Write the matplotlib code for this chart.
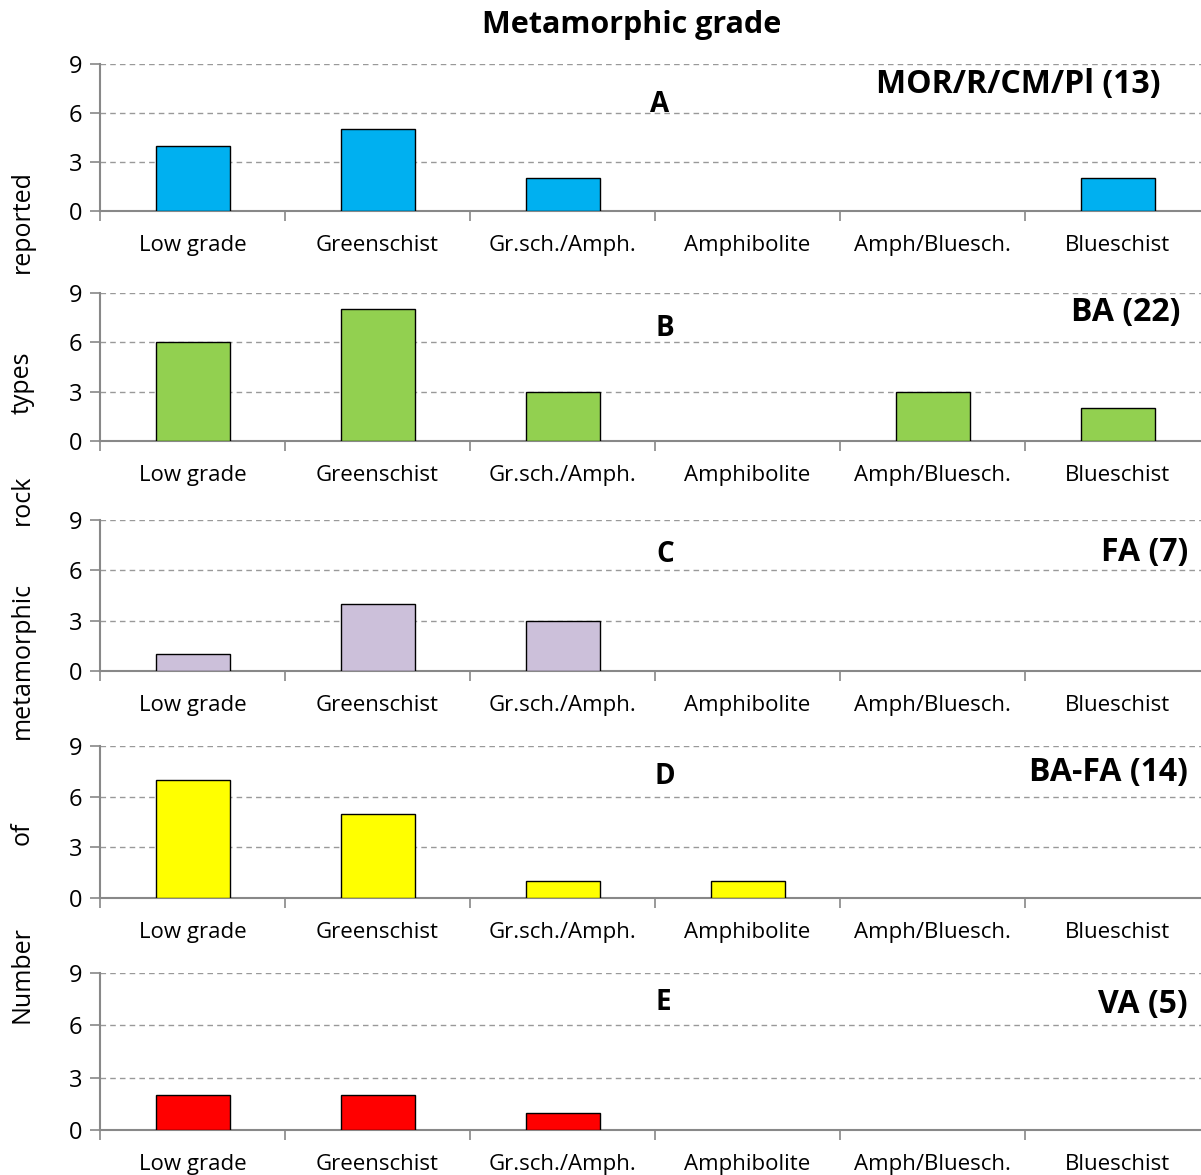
import matplotlib.pyplot as plt

plt.rcParams["font.family"] = ["Open Sans", "DejaVu Sans"]

W, H = 1201, 1175

categories = ["Low grade", "Greenschist", "Gr.sch./Amph.", "Amphibolite",
              "Amph/Bluesch.", "Blueschist"]

mor_counts = [4, 5, 2, 0, 0, 2]
ba_counts = [6, 8, 3, 0, 3, 2]
fa_counts = [1, 4, 3, 0, 0, 0]
bafa_counts = [7, 5, 1, 1, 0, 0]
va_counts = [2, 2, 1, 0, 0, 0]

panel_letters = ["A", "B", "C", "D", "E"]
panel_names = ["MOR/R/CM/Pl (13)", "BA (22)", "FA (7)", "BA-FA (14)", "VA (5)"]
panel_colors = ["#00B0F0", "#92D050", "#CCC0DA", "#FFFF00", "#FF0000"]
series = [mor_counts, ba_counts, fa_counts, bafa_counts, va_counts]

# pixel layout of each panel: (top of axis, bottom of axis)
panel_rows = [(64, 211), (293, 441), (520, 671), (746, 898), (973, 1130)]
letter_pos = [(660, 104), (665, 329), (665, 554), (665, 777), (663, 1002)]
name_pos = [(1160, 85), (1180, 313), (1188, 553), (1188, 773), (1188, 1004)]

ylabel_words = [("reported", 222), ("types", 383), ("rock", 500),
                ("metamorphic", 660), ("of", 833), ("Number", 975)]

fig = plt.figure(figsize=(W / 100, H / 100), dpi=100)

x = list(range(len(categories)))
bounds = [i - 0.5 for i in range(len(categories) + 1)]

for i, counts in enumerate(series):
    top, bot = panel_rows[i]
    ax = fig.add_axes([100 / W, 1 - bot / H, 1110 / W, (bot - top) / H])
    # empty categories get no outline, as in the original
    edge_widths = [1.0 if c > 0 else 0 for c in counts]
    ax.bar(x, counts, width=0.4, color=panel_colors[i], edgecolor="black",
           linewidth=edge_widths, zorder=3)
    ax.set_xlim(-0.5, len(categories) - 0.5)
    ax.set_ylim(0, 9)
    ax.set_yticks([0, 3, 6, 9])
    ax.set_xticks(x)
    ax.set_xticklabels(categories, fontsize=16)
    ax.set_xticks(bounds, minor=True)
    ax.tick_params(axis="x", which="major", length=0, pad=17)
    ax.tick_params(axis="x", which="minor", length=7, color="#888888", width=1.2)
    ax.tick_params(axis="y", length=7, color="#888888", width=1.2, labelsize=17, pad=6)
    ax.yaxis.grid(True, linestyle=(0, (4, 3)), color="#999999", linewidth=1.0, zorder=0)
    for side in ["top", "right"]:
        ax.spines[side].set_visible(False)
    for side in ["left", "bottom"]:
        ax.spines[side].set_color("#888888")
        ax.spines[side].set_linewidth(1.5)
    ax.set_axisbelow(True)

    lx, ly = letter_pos[i]
    fig.text(lx / W, 1 - ly / H, panel_letters[i], fontsize=20, fontweight="bold",
             ha="center", va="center")
    nx, ny = name_pos[i]
    fig.text(nx / W, 1 - ny / H, panel_names[i], fontsize=23, fontweight="bold",
             ha="right", va="center")

for word, py in ylabel_words:
    fig.text(22 / W, 1 - py / H, word, fontsize=18, rotation=90,
             ha="center", va="center")

fig.text(632 / W, 1 - 25 / H, "Metamorphic grade", fontsize=22, fontweight="bold",
         ha="center", va="center")

fig.savefig("out.png", dpi=100)
